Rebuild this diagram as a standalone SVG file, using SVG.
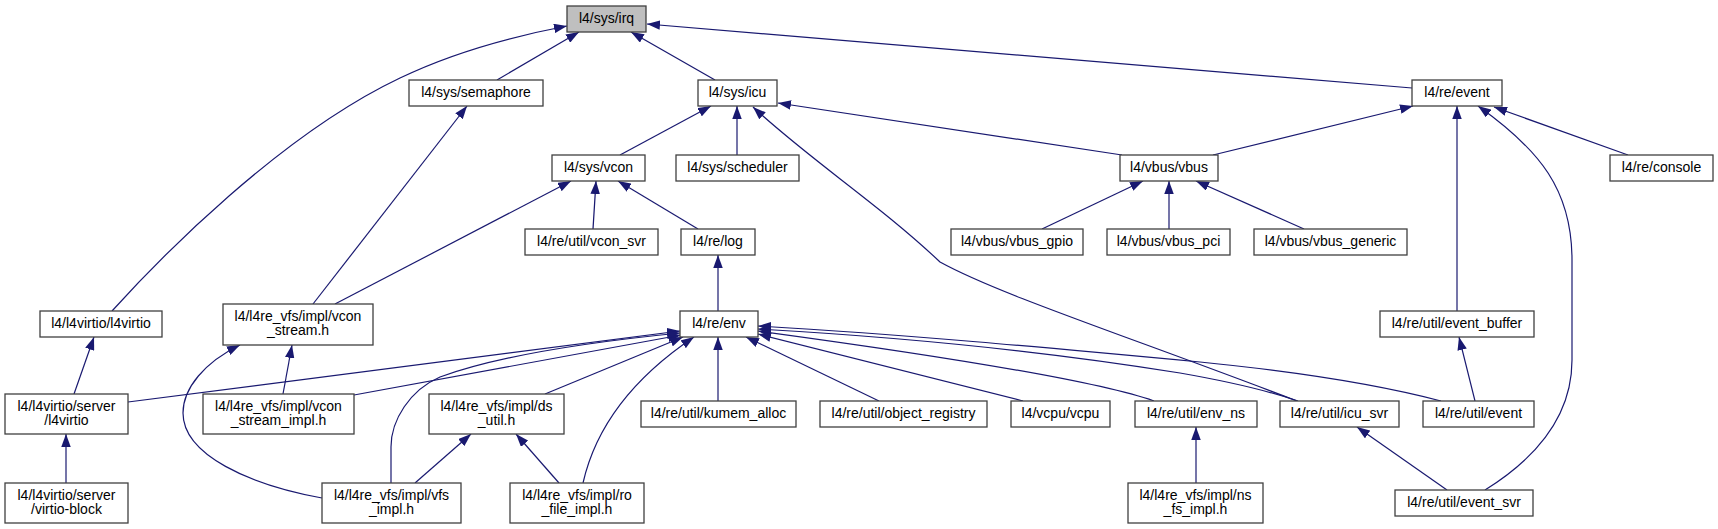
<svg xmlns="http://www.w3.org/2000/svg" width="1718" height="529" viewBox="0 0 1718 529">
<style>
.node rect{fill:#ffffff;stroke:#404040;stroke-width:1.3}
.node.root rect{fill:#bfbfbf}
.node text{font-family:"Liberation Sans",Arial,sans-serif;font-size:14px;fill:#000000;text-anchor:middle}
.edges path{fill:none;stroke:#191970;stroke-width:1.2;marker-end:url(#arr)}
</style>
<defs>
<marker id="arr" viewBox="0 0 13 9.5" refX="13" refY="4.75" markerWidth="13" markerHeight="9.5" markerUnits="userSpaceOnUse" orient="auto">
<path d="M0,0 L13,4.75 L0,9.5 z" fill="#191970"/>
</marker>
</defs>
<rect x="0" y="0" width="1718" height="529" fill="#ffffff"/>
<g class="edges" id="edges">
<path d="M497,80 L579,32"/>
<path d="M715,80 L631,32"/>
<path d="M112,311 C160,258 280,135 400,78 C460,49 520,35 567,26"/>
<path d="M1412,88 L647,24"/>
<path d="M620,155 L711,106"/>
<path d="M737,155 L737,106"/>
<path d="M1122,155 L778,103"/>
<path d="M1297,401 C1130,337 1000,295 940,262 C880,205 810,160 753,107"/>
<path d="M1213,155 L1413,106"/>
<path d="M1457,311 L1457,106"/>
<path d="M1485,490 C1530,462 1572,420 1572,360 L1572,260 C1572,190 1540,150 1478,106"/>
<path d="M1628,155 L1494,107"/>
<path d="M1042,229 L1143,181"/>
<path d="M1169,229 L1169,181"/>
<path d="M1304,229 L1196,181"/>
<path d="M593,229 L596,181"/>
<path d="M698,229 L618,181"/>
<path d="M335,304 L571,181"/>
<path d="M313,304 L467,106"/>
<path d="M718,311 L718,255"/>
<path d="M74,394 L94,337"/>
<path d="M66,483 L66,434"/>
<path d="M283,394 L292,345"/>
<path d="M128,402 L680,331"/>
<path d="M354,395 L681,335"/>
<path d="M391,483 L391,447 C391,420 410,390 440,377 C500,355 590,342 680,333"/>
<path d="M545,394 L683,337"/>
<path d="M583,483 C595,430 630,380 694,337"/>
<path d="M322,498 C250,485 183,455 183,413 C183,388 205,362 240,345"/>
<path d="M415,483 L471,434"/>
<path d="M559,483 L516,434"/>
<path d="M718,401 L718,337"/>
<path d="M879,401 L746,337"/>
<path d="M1023,401 L758,334"/>
<path d="M1154,401 C1100,382 950,357 758,331"/>
<path d="M1298,401 C1260,388 1220,380 1180,373 C1050,352 900,337 758,329"/>
<path d="M1441,401 C1380,385 1300,372 1200,362 C1050,348 900,334 758,326"/>
<path d="M1196,483 L1196,427"/>
<path d="M1447,490 L1357,427"/>
<path d="M1475,401 L1459,337"/>
</g>
<g class="node root" id="irq"><rect x="567" y="6" width="79" height="26"/><text x="606.5" y="23">l4/sys/irq</text></g>
<g class="node" id="semaphore"><rect x="409" y="80" width="134" height="26"/><text x="476" y="97">l4/sys/semaphore</text></g>
<g class="node" id="icu"><rect x="698" y="80" width="79" height="26"/><text x="737.5" y="97">l4/sys/icu</text></g>
<g class="node" id="event"><rect x="1412" y="80" width="90" height="26"/><text x="1457" y="97">l4/re/event</text></g>
<g class="node" id="vcon"><rect x="552" y="155" width="93" height="26"/><text x="598.5" y="172">l4/sys/vcon</text></g>
<g class="node" id="scheduler"><rect x="676" y="155" width="123" height="26"/><text x="737.5" y="172">l4/sys/scheduler</text></g>
<g class="node" id="vbus"><rect x="1120" y="155" width="98" height="26"/><text x="1169" y="172">l4/vbus/vbus</text></g>
<g class="node" id="console"><rect x="1610" y="155" width="103" height="26"/><text x="1661.5" y="172">l4/re/console</text></g>
<g class="node" id="vcon_svr"><rect x="525" y="229" width="133" height="26"/><text x="591.5" y="246">l4/re/util/vcon_svr</text></g>
<g class="node" id="log"><rect x="681" y="229" width="74" height="26"/><text x="718" y="246">l4/re/log</text></g>
<g class="node" id="vbus_gpio"><rect x="951" y="229" width="132" height="26"/><text x="1017" y="246">l4/vbus/vbus_gpio</text></g>
<g class="node" id="vbus_pci"><rect x="1107" y="229" width="123" height="26"/><text x="1168.5" y="246">l4/vbus/vbus_pci</text></g>
<g class="node" id="vbus_generic"><rect x="1254" y="229" width="153" height="26"/><text x="1330.5" y="246">l4/vbus/vbus_generic</text></g>
<g class="node" id="l4virtio"><rect x="40" y="311" width="122" height="26"/><text x="101" y="328">l4/l4virtio/l4virtio</text></g>
<g class="node" id="vcon_stream"><rect x="223" y="304" width="150" height="41"/><text x="298" y="321">l4/l4re_vfs/impl/vcon</text><text x="298" y="335">_stream.h</text></g>
<g class="node" id="env"><rect x="680" y="311" width="78" height="26"/><text x="719" y="328">l4/re/env</text></g>
<g class="node" id="event_buffer"><rect x="1380" y="311" width="154" height="26"/><text x="1457" y="328">l4/re/util/event_buffer</text></g>
<g class="node" id="server_l4virtio"><rect x="5" y="394" width="123" height="40"/><text x="66.5" y="411">l4/l4virtio/server</text><text x="66.5" y="425">/l4virtio</text></g>
<g class="node" id="vcon_stream_impl"><rect x="203" y="394" width="151" height="40"/><text x="278.5" y="411">l4/l4re_vfs/impl/vcon</text><text x="278.5" y="425">_stream_impl.h</text></g>
<g class="node" id="ds_util"><rect x="429" y="394" width="135" height="40"/><text x="496.5" y="411">l4/l4re_vfs/impl/ds</text><text x="496.5" y="425">_util.h</text></g>
<g class="node" id="kumem_alloc"><rect x="641" y="401" width="155" height="26"/><text x="718.5" y="418">l4/re/util/kumem_alloc</text></g>
<g class="node" id="object_registry"><rect x="820" y="401" width="167" height="26"/><text x="903.5" y="418">l4/re/util/object_registry</text></g>
<g class="node" id="vcpu"><rect x="1011" y="401" width="99" height="26"/><text x="1060.5" y="418">l4/vcpu/vcpu</text></g>
<g class="node" id="env_ns"><rect x="1135" y="401" width="122" height="26"/><text x="1196" y="418">l4/re/util/env_ns</text></g>
<g class="node" id="icu_svr"><rect x="1280" y="401" width="119" height="26"/><text x="1339.5" y="418">l4/re/util/icu_svr</text></g>
<g class="node" id="util_event"><rect x="1423" y="401" width="111" height="26"/><text x="1478.5" y="418">l4/re/util/event</text></g>
<g class="node" id="virtio_block"><rect x="5" y="483" width="123" height="40"/><text x="66.5" y="500">l4/l4virtio/server</text><text x="66.5" y="514">/virtio-block</text></g>
<g class="node" id="vfs_impl"><rect x="322" y="483" width="139" height="40"/><text x="391.5" y="500">l4/l4re_vfs/impl/vfs</text><text x="391.5" y="514">_impl.h</text></g>
<g class="node" id="ro_file_impl"><rect x="510" y="483" width="134" height="40"/><text x="577" y="500">l4/l4re_vfs/impl/ro</text><text x="577" y="514">_file_impl.h</text></g>
<g class="node" id="ns_fs_impl"><rect x="1128" y="483" width="135" height="40"/><text x="1195.5" y="500">l4/l4re_vfs/impl/ns</text><text x="1195.5" y="514">_fs_impl.h</text></g>
<g class="node" id="event_svr"><rect x="1395" y="490" width="138" height="26"/><text x="1464" y="507">l4/re/util/event_svr</text></g>
</svg>
